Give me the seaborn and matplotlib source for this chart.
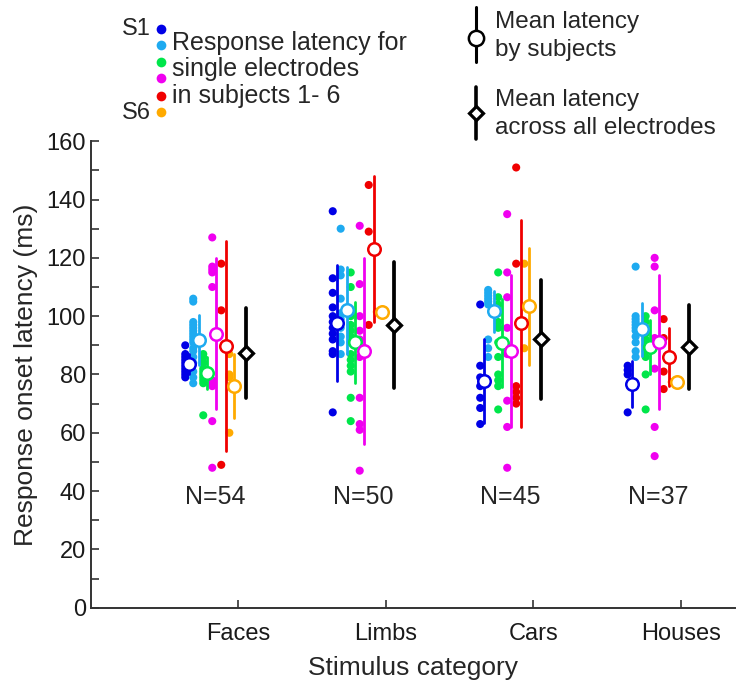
"""
Response onset latency per stimulus category, single electrodes and means.
"""

import matplotlib
matplotlib.use('Agg')
import matplotlib.pyplot as plt
from matplotlib.ticker import MultipleLocator
import seaborn as sns
import numpy as np
import pandas as pd

sns.set_style("ticks")
plt.rcParams['font.family'] = ['Liberation Sans', 'DejaVu Sans']

categories = ['Faces', 'Limbs', 'Cars', 'Houses']
n_labels = ['N=54', 'N=50', 'N=45', 'N=37']
subjects = ['S1', 'S2', 'S3', 'S4', 'S5', 'S6']
subject_colors = ['#0000e6', '#1eaaf0', '#00e64a', '#f000f0', '#f00000', '#ffaa00']

# single electrode latencies (ms), one list per subject S1..S6
faces_latency = [
    [90, 87, 86, 85, 84, 83, 82, 81, 80, 79],
    [106, 105, 98, 97, 96, 95, 94, 93, 92, 91, 89, 88, 86, 84, 81, 79, 77],
    [87, 86, 84, 82, 81, 80, 79, 78, 77, 66],
    [127, 117, 116, 115, 110, 78, 77, 76, 64, 48],
    [118, 102, 49],
    [87, 80, 79, 60],
]
limbs_latency = [
    [136, 113, 108, 103, 100, 98, 96, 94, 92, 88, 87, 67],
    [130, 116, 114, 106, 101, 99, 96, 93, 91, 87],
    [115, 110, 100, 97, 95, 93, 91, 87, 85, 83, 81, 72, 64],
    [131, 111, 100, 95, 92, 86, 72, 63, 61, 47],
    [145, 129, 97],
    [101.5],
]
cars_latency = [
    [104, 83, 79, 76, 72, 68.5, 63],
    [109, 108, 107, 106, 105, 104, 92, 89, 86],
    [115, 106.5, 104, 101, 98, 96, 91, 86, 80, 78, 76, 68],
    [135, 115, 106.5, 96, 87, 71, 62, 48],
    [151, 118, 76, 74, 72, 70],
    [118, 89],
]
houses_latency = [
    [83, 81.5, 80, 67],
    [117, 100, 99, 98, 97, 96, 95, 93, 91, 88, 86],
    [100, 98, 96, 94, 92, 90, 88, 86, 80, 68],
    [120, 117, 102, 92.5, 82, 62, 52],
    [99, 92.5, 81, 75],
    [77.4],
]
latencies = [faces_latency, limbs_latency, cars_latency, houses_latency]

# mean latency by subject and its spread (ms)
subject_mean = [
    [83.6, 91.8, 80.5, 94.0, 89.7, 76.0],
    [97.6, 102.0, 91.0, 88.0, 123.0, 101.5],
    [77.7, 101.7, 90.8, 88.0, 97.6, 103.4],
    [76.7, 95.5, 89.4, 91.0, 86.0, 77.4],
]
subject_sd = [
    [3.5, 8.5, 5.5, 26.0, 36.0, 11.0],
    [20.0, 15.0, 14.0, 32.0, 25.0, 0.0],
    [14.5, 7.0, 15.0, 26.0, 35.5, 20.0],
    [8.0, 9.0, 9.3, 23.0, 10.0, 0.0],
]

# mean latency across all electrodes
all_mean = [87.3, 97.0, 92.0, 89.4]
all_sd = [15.4, 21.6, 20.5, 14.3]

dot_offset = [-0.36, -0.306, -0.238, -0.177, -0.116, -0.061]
mean_offset = [-0.333, -0.265, -0.211, -0.15, -0.082, -0.027]
all_offset = 0.054

rows = []
for ci, cat_lists in enumerate(latencies):
    for si, vals in enumerate(cat_lists):
        for v in vals:
            rows.append({'x': ci + 1 + dot_offset[si], 'subject': subjects[si], 'latency': v})
df = pd.DataFrame(rows)

fig = plt.figure(figsize=(7.45, 6.89), dpi=100)
ax = fig.add_axes([0.122, 0.118, 0.865, 0.677])

sns.scatterplot(data=df, x='x', y='latency', hue='subject',
                palette=dict(zip(subjects, subject_colors)), s=34, linewidth=0,
                legend=False, ax=ax, zorder=2)

for ci in range(len(categories)):
    for si, color in enumerate(subject_colors):
        x = ci + 1 + mean_offset[si]
        m, sd = subject_mean[ci][si], subject_sd[ci][si]
        if sd > 0:
            ax.plot([x, x], [m - sd, m + sd], color=color, lw=2.0, zorder=3)
        ax.plot(x, m, 'o', mfc='white', mec=color, ms=9, mew=1.8, zorder=4)
    x = ci + 1 + all_offset
    ax.plot([x, x], [all_mean[ci] - all_sd[ci], all_mean[ci] + all_sd[ci]],
            color='black', lw=2.7, zorder=3)
    ax.plot(x, all_mean[ci], 'D', mfc='white', mec='black', ms=7, mew=2.3, zorder=4)
    ax.text(ci + 1 - 0.155, 38, n_labels[ci], ha='center', va='center', fontsize=18)

ax.set_xlim(0, 4.37)
ax.set_ylim(0, 160)
ax.set_xticks(range(1, 5))
ax.set_xticklabels(categories)
ax.yaxis.set_major_locator(MultipleLocator(20))
ax.yaxis.set_minor_locator(MultipleLocator(10))
ax.tick_params(axis='both', which='both', direction='in', length=6, width=1.2,
               color='#333333', labelsize=17, labelcolor='#1a1a1a',
               left=True, bottom=True)
ax.tick_params(axis='x', pad=11)
ax.set_xlabel('Stimulus category', fontsize=19, labelpad=8)
ax.set_ylabel('Response onset latency (ms)', fontsize=19, labelpad=6)
sns.despine(ax=ax)
for side in ['left', 'bottom']:
    ax.spines[side].set_linewidth(1.4)
    ax.spines[side].set_color('#333333')

# legend drawn in figure pixel space
lg = fig.add_axes([0, 0, 1, 1], zorder=-1)
lg.set_xlim(0, 745)
lg.set_ylim(689, 0)
lg.axis('off')

leg_dot_y = [29, 45, 62, 78, 96, 112]
for y, color in zip(leg_dot_y, subject_colors):
    lg.plot(161, y, 'o', color=color, ms=7, mew=0)
lg.text(151, 29, 'S1', ha='right', va='center', fontsize=17)
lg.text(151, 113, 'S6', ha='right', va='center', fontsize=17)
for y, line in zip([43, 69, 96], ['Response latency for', 'single electrodes', 'in subjects 1- 6']):
    lg.text(172, y, line, ha='left', va='center', fontsize=18)

lg.plot([476, 476], [7, 62], color='black', lw=2.2)
lg.plot(476, 38, 'o', mfc='white', mec='black', ms=11, mew=1.8)
lg.text(495, 22, 'Mean latency', ha='left', va='center', fontsize=17.5)
lg.text(495, 50, 'by subjects', ha='left', va='center', fontsize=17.5)

lg.plot([476, 476], [87, 139], color='black', lw=2.6)
lg.plot(476, 113, 'D', mfc='white', mec='black', ms=7.5, mew=2.3)
lg.text(495, 100, 'Mean latency', ha='left', va='center', fontsize=17.5)
lg.text(495, 128, 'across all electrodes', ha='left', va='center', fontsize=17.5)

plt.savefig('out.png', dpi=100)
print("[OK] Saved: out.png")
